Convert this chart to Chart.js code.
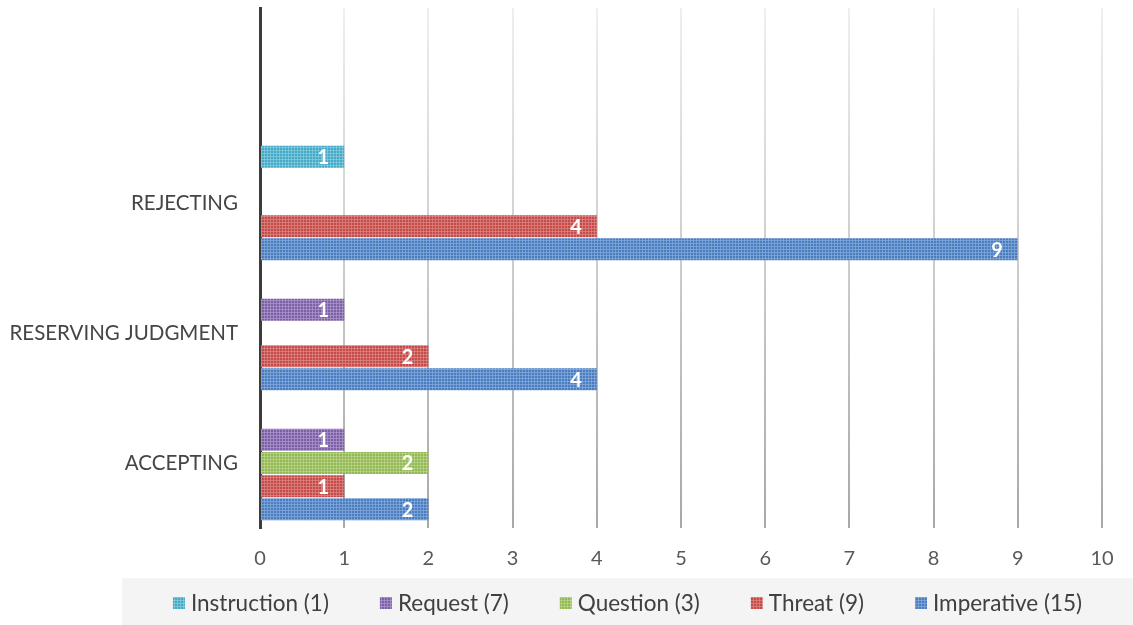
<!DOCTYPE html>
<html>
<head>
<meta charset="utf-8">
<script src="https://cdn.jsdelivr.net/npm/chart.js@4.4.1/dist/chart.umd.min.js"></script>
<style>
  html, body { margin: 0; padding: 0; background: #ffffff; }
  #wrap { width: 1133px; height: 625px; position: relative; }
</style>
</head>
<body>
<div id="wrap"><canvas id="c" width="1133" height="625"></canvas></div>
<script>
// Categories, top to bottom (the first band is left empty)
const categories = ['', 'REJECTING', 'RESERVING JUDGMENT', 'ACCEPTING'];

// Series values per category (null = no bar)
const instruction = [null, 1, null, null];
const request     = [null, null, 1, 1];
const question    = [null, null, null, 2];
const threat      = [null, 4, 2, 1];
const imperative  = [null, 9, 4, 2];

// Legend / series names
const seriesNames = ['Instruction (1)', 'Request (7)', 'Question (3)', 'Threat (9)', 'Imperative (15)'];

// Axis ticks
const xTicks = [0, 1, 2, 3, 4, 5, 6, 7, 8, 9, 10];

const FONT = 'Lato, "Open Sans", sans-serif';

// Fine checkered fill pattern for bars
function speckle(base, light) {
  const c = document.createElement('canvas');
  c.width = 3; c.height = 3;
  const g = c.getContext('2d');
  g.fillStyle = base;
  g.fillRect(0, 0, 3, 3);
  g.fillStyle = light;
  g.globalAlpha = 0.55;
  g.fillRect(0, 0, 3, 1);
  g.fillRect(0, 1, 1, 2);
  g.globalAlpha = 0.35;
  g.fillRect(0, 0, 1, 1);
  return g.createPattern(c, 'repeat');
}

const palettes = [
  ['#44a9c6', '#9fd8e8'],
  ['#7c5fa6', '#bba8d8'],
  ['#93b954', '#c8df9f'],
  ['#c44b48', '#e89d9a'],
  ['#4a7cc0', '#9bbbe6']
];
const fills = palettes.map(p => speckle(p[0], p[1]));

const seriesData = [instruction, request, question, threat, imperative];

// Vertical gridlines fade from pale at the top to grey at the bottom
function gridGradient(chart) {
  const a = chart.chartArea;
  if (!a) return '#d0d0d0';
  const g = chart.ctx.createLinearGradient(0, a.top, 0, a.bottom);
  g.addColorStop(0, '#efefef');
  g.addColorStop(1, '#a8a8a8');
  return g;
}

// White value labels inside the end of each bar
const valueLabels = {
  id: 'valueLabels',
  afterDatasetsDraw(chart) {
    const ctx = chart.ctx;
    ctx.save();
    ctx.fillStyle = '#ffffff';
    ctx.font = 'bold 20px ' + FONT;
    ctx.textAlign = 'right';
    ctx.textBaseline = 'middle';
    chart.data.datasets.forEach((ds, i) => {
      const meta = chart.getDatasetMeta(i);
      meta.data.forEach((el, j) => {
        const v = ds.data[j];
        if (v === null || v === undefined) return;
        ctx.fillText(String(v), el.x - 15, el.y + 1);
      });
    });
    ctx.restore();
  }
};

// Legend strip across the bottom
const bottomLegend = {
  id: 'bottomLegend',
  afterDraw(chart) {
    const ctx = chart.ctx;
    ctx.save();
    ctx.fillStyle = '#f4f4f4';
    ctx.fillRect(122, 578, 1133 - 122, 47);
    ctx.font = '22.5px ' + FONT;
    ctx.textBaseline = 'middle';
    const box = 12, gapBox = 6, gapItem = 51;
    const widths = seriesNames.map(n => box + gapBox + ctx.measureText(n).width);
    const total = widths.reduce((s, w) => s + w, 0) + gapItem * (widths.length - 1);
    let x = 627.5 - total / 2;
    const y = 603;
    seriesNames.forEach((n, i) => {
      ctx.fillStyle = fills[i];
      ctx.fillRect(x, y - 6, box, box);
      ctx.fillStyle = '#404040';
      ctx.fillText(n, x + box + gapBox, y + 1);
      x += widths[i] + gapItem;
    });
    ctx.restore();
  }
};

new Chart(document.getElementById('c'), {
  type: 'bar',
  data: {
    labels: categories,
    datasets: seriesData.map((d, i) => ({
      label: seriesNames[i],
      data: d,
      backgroundColor: fills[i],
      borderWidth: 0,
      categoryPercentage: 0.89,
      barPercentage: 0.95
    }))
  },
  options: {
    indexAxis: 'y',
    responsive: false,
    animation: false,
    devicePixelRatio: 1,
    layout: { padding: { top: 8, right: 31, bottom: 0, left: 0 } },
    plugins: {
      legend: { display: false },
      tooltip: { enabled: false }
    },
    scales: {
      x: {
        type: 'linear',
        min: 0,
        max: 10,
        afterBuildTicks(scale) { scale.ticks = xTicks.map(v => ({ value: v })); },
        afterFit(scale) { scale.height = 97; scale.paddingLeft = 0; scale.paddingRight = 0; },
        border: { display: false },
        grid: {
          color: ctx => gridGradient(ctx.chart),
          lineWidth: 2,
          drawTicks: false
        },
        ticks: {
          color: '#595959',
          font: { family: FONT, size: 20 },
          padding: 19
        }
      },
      y: {
        afterFit(scale) { scale.width = 260; scale.paddingTop = 0; scale.paddingBottom = 0; },
        border: { display: true, color: '#3c3c3c', width: 3 },
        grid: { display: false, drawTicks: false },
        ticks: {
          color: '#454545',
          font: { family: FONT, size: 20.5 },
          padding: 22
        }
      }
    }
  },
  plugins: [valueLabels, bottomLegend]
});
</script>
</body>
</html>
